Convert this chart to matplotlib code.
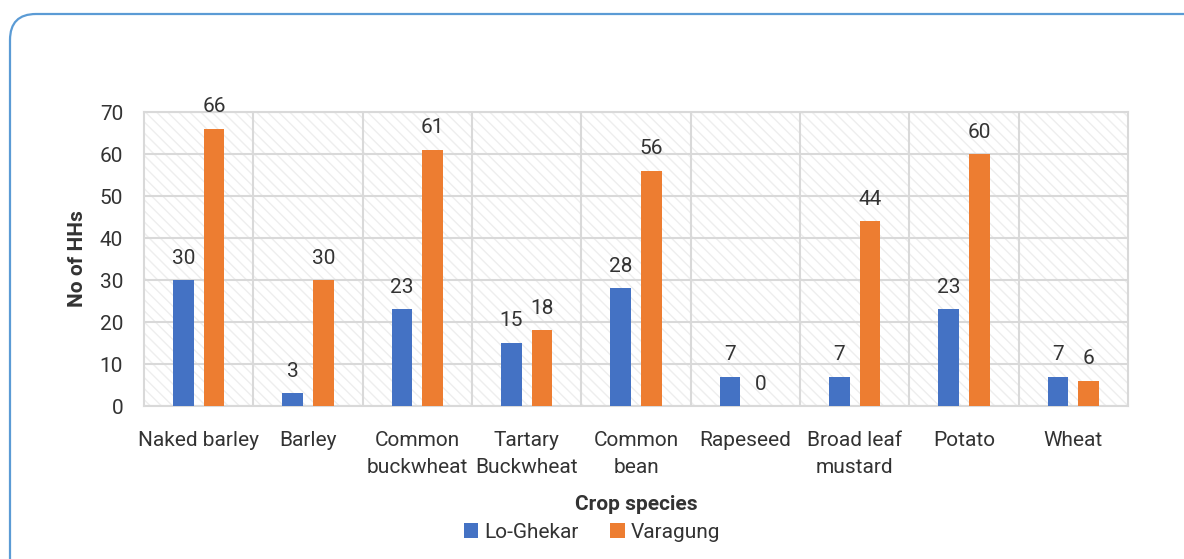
import matplotlib
matplotlib.use("Agg")
import matplotlib.pyplot as plt
import numpy as np
from matplotlib.patches import FancyBboxPatch, Rectangle
from matplotlib.transforms import IdentityTransform

plt.rcParams['font.family'] = ['Roboto', 'DejaVu Sans']

categories = ["Naked barley", "Barley", "Common\nbuckwheat", "Tartary\nBuckwheat",
              "Common\nbean", "Rapeseed", "Broad leaf\nmustard", "Potato", "Wheat"]
lo_ghekar = [30, 3, 23, 15, 28, 7, 7, 23, 7]
varagung = [66, 30, 61, 18, 56, 0, 44, 60, 6]
series_names = ["Lo-Ghekar", "Varagung"]
yticks = [0, 10, 20, 30, 40, 50, 60, 70]

W, H, DPI = 1184, 559, 100
FS = 15
TXT = "#333333"
fig = plt.figure(figsize=(W / DPI, H / DPI), dpi=DPI)
ax = fig.add_axes([144 / W, 1 - 406 / H, (1128 - 144) / W, (406 - 112) / H])

# patterned plot-area background
ax.add_patch(Rectangle((0, 0), 1, 1, transform=ax.transAxes, facecolor="white",
                       edgecolor="#eeeeee", hatch="\\\\\\", linewidth=0, zorder=0))
ax.set_facecolor("white")

x = np.arange(len(categories))
bw = 0.19
off = 0.14
b1 = ax.bar(x - off, lo_ghekar, bw, color="#4472C4", label=series_names[0], zorder=3)
b2 = ax.bar(x + off, varagung, bw, color="#ED7D31", label=series_names[1], zorder=3)

for bars, vals in ((b1, lo_ghekar), (b2, varagung)):
    for r, v in zip(bars, vals):
        ax.annotate(f"{v}", (r.get_x() + r.get_width() / 2, v), xytext=(0, 9),
                    textcoords="offset points", ha="center", va="bottom",
                    fontsize=FS, color=TXT)

ax.set_xlim(-0.5, len(categories) - 0.5)
ax.set_ylim(0, 70)
ax.set_yticks(yticks)
ax.set_xticks(x)
ax.set_xticklabels(categories, fontsize=FS, color=TXT, linespacing=1.55)
ax.set_xticks(np.arange(0.5, len(categories) - 0.5), minor=True)
ax.tick_params(axis="both", which="both", length=0)
ax.tick_params(axis="y", labelsize=FS, labelcolor=TXT, pad=15)
ax.tick_params(axis="x", pad=18)
ax.grid(True, axis="y", which="major", color="#d9d9d9", linewidth=1.5, zorder=1)
ax.grid(True, axis="x", which="minor", color="#d9d9d9", linewidth=1.5, zorder=1)
ax.set_axisbelow(True)
for s in ax.spines.values():
    s.set_color("#d9d9d9")
    s.set_linewidth(1.5)

ax.set_ylabel("No of HHs", fontsize=FS, fontweight="bold", color=TXT, labelpad=9)
ax.set_xlabel("Crop species", fontsize=FS, fontweight="bold", color=TXT, labelpad=13)

leg = fig.legend(loc="center", bbox_to_anchor=(0.5, 1 - 532 / H), ncol=2, frameon=False,
                 fontsize=FS, handlelength=0.7, handleheight=0.7, handletextpad=0.3,
                 columnspacing=1.5, labelcolor=TXT)

# rounded outer border
border = FancyBboxPatch((10, -40), W + 40, (H - 14) + 40,
                        boxstyle="round,pad=0,rounding_size=26",
                        transform=IdentityTransform(), facecolor="none",
                        edgecolor="#5B9BD5", linewidth=1.6, clip_on=False)
fig.patches.append(border)

fig.savefig("out.png", dpi=DPI)
